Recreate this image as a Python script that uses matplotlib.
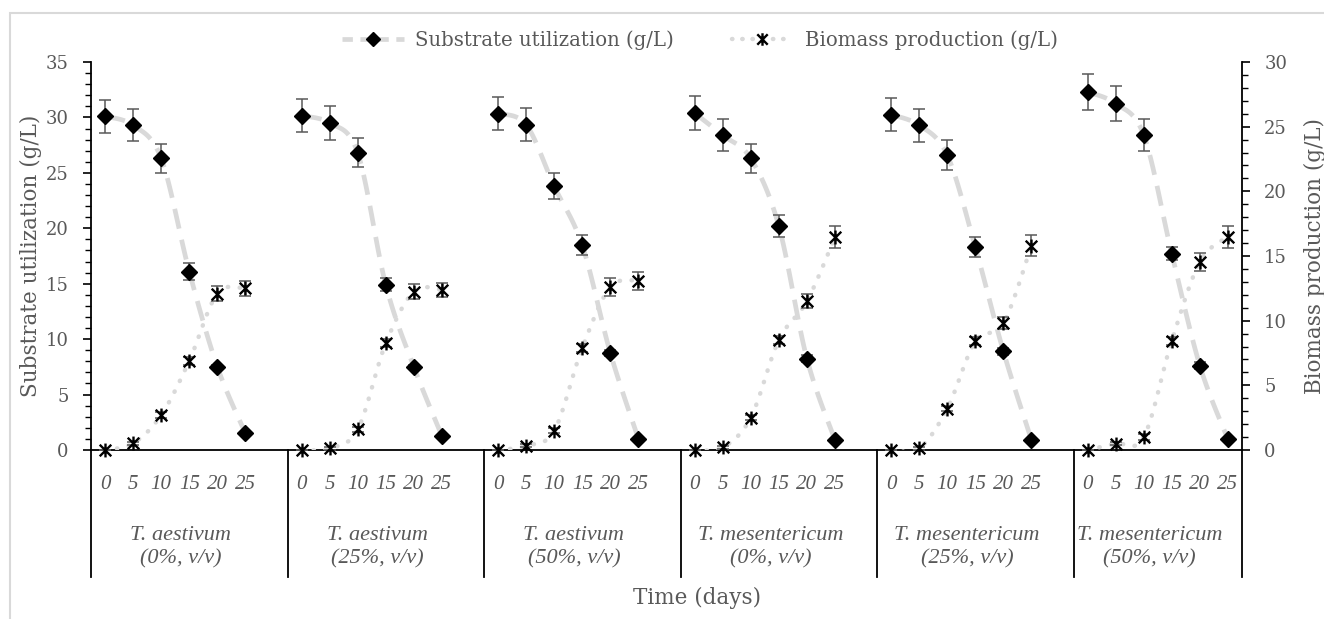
import matplotlib.pyplot as plt
import numpy as np
from matplotlib.path import Path
from matplotlib.lines import Line2D
import matplotlib.transforms as mtransforms

# ---- data ----
days = ["0", "5", "10", "15", "20", "25"]
groups = ["T. aestivum\n(0%, v/v)", "T. aestivum\n(25%, v/v)", "T. aestivum\n(50%, v/v)",
          "T. mesentericum\n(0%, v/v)", "T. mesentericum\n(25%, v/v)", "T. mesentericum\n(50%, v/v)"]

substrate = [
    [30.1, 29.3, 26.3, 16.1, 7.5, 1.5],
    [30.15, 29.5, 26.8, 14.9, 7.5, 1.26],
    [30.35, 29.35, 23.8, 18.45, 8.75, 1.0],
    [30.4, 28.4, 26.3, 20.2, 8.25, 0.9],
    [30.25, 29.3, 26.6, 18.3, 8.9, 0.9],
    [32.3, 31.25, 28.4, 17.7, 7.6, 0.95],
]
substrate_err = [
    [1.5, 1.45, 1.3, 0.8, 0.2, 0.1],
    [1.5, 1.5, 1.3, 0.6, 0.2, 0.1],
    [1.5, 1.5, 1.2, 0.9, 0.3, 0.1],
    [1.5, 1.45, 1.3, 1.0, 0.3, 0.1],
    [1.5, 1.5, 1.35, 0.9, 0.3, 0.1],
    [1.6, 1.6, 1.45, 0.6, 0.3, 0.1],
]
biomass = [
    [0.0, 0.52, 2.7, 6.9, 12.1, 12.5],
    [0.0, 0.13, 1.6, 8.25, 12.25, 12.4],
    [0.0, 0.33, 1.5, 7.9, 12.6, 13.1],
    [0.0, 0.2, 2.5, 8.5, 11.5, 16.45],
    [0.0, 0.13, 3.2, 8.4, 9.8, 15.8],
    [0.0, 0.5, 1.0, 8.45, 14.55, 16.5],
]
biomass_err = [
    [0.0, 0.1, 0.2, 0.3, 0.6, 0.6],
    [0.0, 0.1, 0.2, 0.3, 0.55, 0.55],
    [0.0, 0.1, 0.2, 0.3, 0.7, 0.7],
    [0.0, 0.1, 0.2, 0.3, 0.55, 0.85],
    [0.0, 0.1, 0.2, 0.3, 0.45, 0.8],
    [0.0, 0.1, 0.2, 0.3, 0.7, 0.85],
]

GREY_TXT = "#595959"
LINE_GREY = "#D9D9D9"
plt.rcParams['font.family'] = ['DejaVu Serif']
ITAL = ['Liberation Serif', 'DejaVu Serif']

# star marker: X with a vertical bar
star = Path([(-1, -1), (1, 1), (-1, 1), (1, -1), (0, -1.2), (0, 1.2)],
            [Path.MOVETO, Path.LINETO, Path.MOVETO, Path.LINETO, Path.MOVETO, Path.LINETO])


def smooth(x, y, n=25):
    # Catmull-Rom curve through the points (like Excel's smoothed line)
    pts = np.column_stack([x, y]).astype(float)
    t = np.linspace(0, 1, n)[:, None]
    out = []
    for i in range(len(pts) - 1):
        p0 = pts[max(i - 1, 0)]
        p1 = pts[i]
        p2 = pts[i + 1]
        p3 = pts[min(i + 2, len(pts) - 1)]
        seg = 0.5 * (2 * p1 + (-p0 + p2) * t + (2 * p0 - 5 * p1 + 4 * p2 - p3) * t ** 2
                     + (-p0 + 3 * p1 - 3 * p2 + p3) * t ** 3)
        out.append(seg)
    return np.vstack(out)


fig = plt.figure(figsize=(13.24, 6.19), dpi=100)
ax = fig.add_axes([91 / 1324, 1 - 450 / 619, (1242 - 91) / 1324, 388 / 619])
ax2 = ax.twinx()

n_per = len(days) + 1
for g in range(len(groups)):
    x = np.arange(len(days)) + g * n_per
    c = smooth(x, substrate[g])
    ax.plot(c[:, 0], c[:, 1], color=LINE_GREY, lw=3.4, dashes=(4.3, 2.4), zorder=1)
    ax.errorbar(x, substrate[g], yerr=substrate_err[g], fmt='none', ecolor=GREY_TXT,
                elinewidth=1.1, capsize=4, capthick=1.1, zorder=2)
    ax.plot(x, substrate[g], ls='none', marker='D', ms=8.5, color='black', zorder=3)

    c = smooth(x, biomass[g])
    ax2.plot(c[:, 0], c[:, 1], color=LINE_GREY, lw=3.2, dashes=(0.1, 2.6),
             dash_capstyle='round', zorder=1)
    ax2.errorbar(x, biomass[g], yerr=biomass_err[g], fmt='none', ecolor=GREY_TXT,
                 elinewidth=1.1, capsize=4, capthick=1.1, zorder=2)
    ax2.plot(x, biomass[g], ls='none', marker=star, ms=10, mew=1.7, color='black',
             zorder=3, clip_on=False)

n_cat = len(groups) * n_per - 1
ax.set_xlim(-0.5, n_cat - 0.5)
ax.set_ylim(0, 35)
ax2.set_ylim(0, 30)
ax.set_yticks(np.arange(0, 36, 5))
ax.set_yticks(np.arange(0, 36, 1), minor=True)
ax2.set_yticks(np.arange(0, 31, 5))
ax2.set_yticks(np.arange(0, 31, 1), minor=True)

for a in (ax, ax2):
    a.spines['top'].set_visible(False)
    for s in a.spines.values():
        s.set_linewidth(1.3)
    a.tick_params(axis='y', which='major', length=6, width=1.2, colors='black',
                  labelcolor=GREY_TXT, labelsize=13, pad=10)
    a.tick_params(axis='y', which='minor', length=4, width=1.0, colors='black')
ax2.spines['left'].set_visible(False)
ax.spines['right'].set_visible(False)
ax2.spines['bottom'].set_visible(False)

# category tick labels (days)
xt = [g * n_per + i for g in range(len(groups)) for i in range(len(days))]
ax.set_xticks(xt)
ax.set_xticklabels(days * len(groups), fontstyle='italic', color=GREY_TXT, fontsize=15,
                   family=ITAL)
ax.tick_params(axis='x', length=0, pad=18)

# group separators and labels
trans = mtransforms.blended_transform_factory(ax.transData, ax.transAxes)
bounds = [-0.5] + [g * n_per + len(days) + 0.5 for g in range(len(groups) - 1)] + [n_cat - 0.5]
for b in bounds:
    ax.plot([b, b], [0, -0.328], transform=trans, color='black', lw=1.3, clip_on=False)
for g, lab in enumerate(groups):
    ax.text((bounds[g] + bounds[g + 1]) / 2 - 0.3, -0.251, lab, transform=trans, ha='center',
            va='center', fontstyle='italic', color=GREY_TXT, fontsize=16, linespacing=1.25,
            family=ITAL)

ax.set_ylabel("Substrate utilization (g/L)", color=GREY_TXT, fontsize=15.5, labelpad=3)
ax2.set_ylabel("Biomass production (g/L)", color=GREY_TXT, fontsize=15.5, labelpad=12)
fig.text(697 / 1324, 1 - 598 / 619, "Time (days)", ha='center', va='center',
         color=GREY_TXT, fontsize=15.5)

# legend
h1 = Line2D([], [], color=LINE_GREY, lw=3.4, dashes=(2.2, 1.6), marker='D', ms=7.5,
            mfc='black', mec='black')
h2 = Line2D([], [], color=LINE_GREY, lw=3.2, dashes=(0.1, 2.2), dash_capstyle='round',
            marker=star, ms=9, mew=1.7, mfc='black', mec='black')
leg = fig.legend([h1, h2], ["Substrate utilization (g/L)", "Biomass production (g/L)"],
                 loc='center', bbox_to_anchor=(700 / 1324, 1 - 40 / 619), ncol=2, frameon=False,
                 fontsize=14.2, handlelength=3.1, columnspacing=2.9, handletextpad=0.6)
for t in leg.get_texts():
    t.set_color(GREY_TXT)

# chart area border (light grey)
fig.patches.append(plt.Rectangle((10 / 1324, -0.1), 1.2, 1 - 13 / 619 + 0.1,
                                 transform=fig.transFigure, fill=False,
                                 edgecolor='#D9D9D9', lw=1.5, zorder=0))

fig.savefig("out.png", dpi=100)
